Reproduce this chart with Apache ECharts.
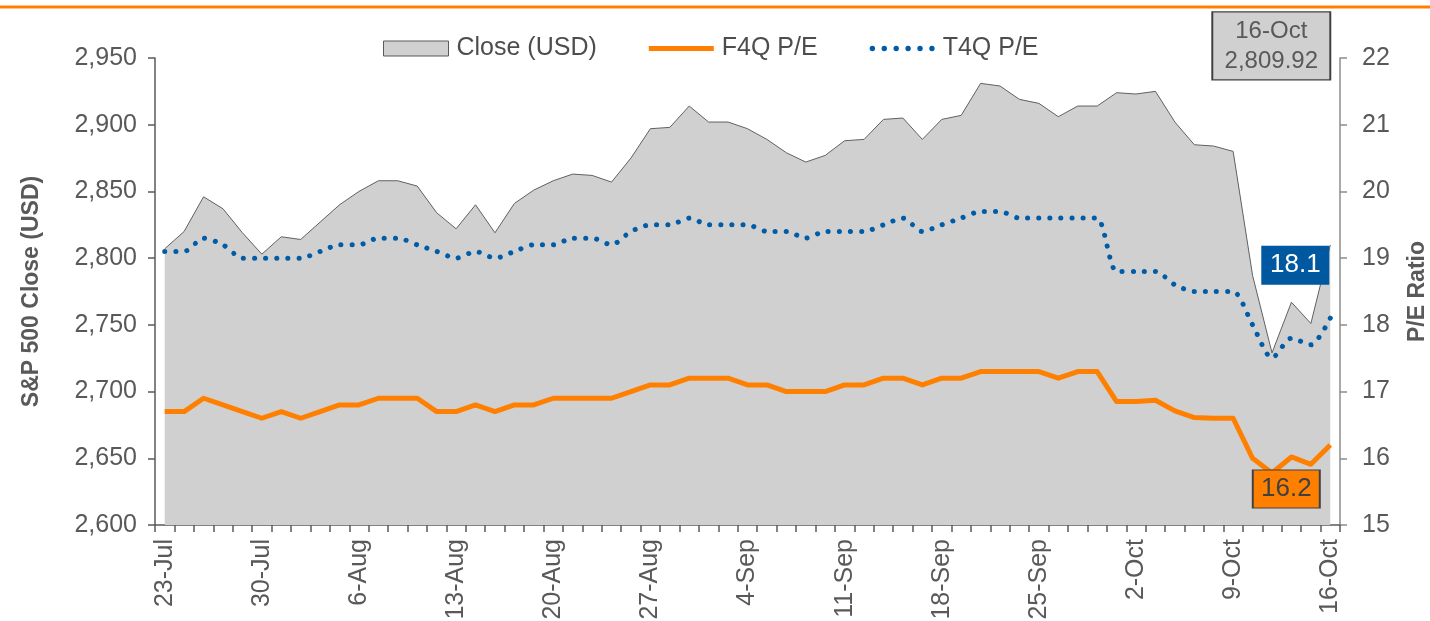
<!DOCTYPE html>
<html>
<head>
<meta charset="utf-8">
<script src="https://cdn.jsdelivr.net/npm/echarts@6/dist/echarts.min.js"></script>
<style>
  html, body { margin: 0; padding: 0; background: #fff; }
  #chart { width: 1430px; height: 621px; }
</style>
</head>
<body>
<div id="chart"></div>
<script>
// trading days, 23-Jul to 16-Oct
const dates = [
  '23-Jul','24-Jul','25-Jul','26-Jul','27-Jul',
  '30-Jul','31-Jul','1-Aug','2-Aug','3-Aug',
  '6-Aug','7-Aug','8-Aug','9-Aug','10-Aug',
  '13-Aug','14-Aug','15-Aug','16-Aug','17-Aug',
  '20-Aug','21-Aug','22-Aug','23-Aug','24-Aug',
  '27-Aug','28-Aug','29-Aug','30-Aug','31-Aug',
  '4-Sep','5-Sep','6-Sep','7-Sep','10-Sep',
  '11-Sep','12-Sep','13-Sep','14-Sep','17-Sep',
  '18-Sep','19-Sep','20-Sep','21-Sep','24-Sep',
  '25-Sep','26-Sep','27-Sep','28-Sep','1-Oct',
  '2-Oct','3-Oct','4-Oct','5-Oct','8-Oct',
  '9-Oct','10-Oct','11-Oct','12-Oct','15-Oct',
  '16-Oct'
];

const closeUsd = [
  2807, 2820, 2846, 2837, 2819,
  2803, 2816, 2814, 2827, 2840,
  2850, 2858, 2858, 2854, 2834,
  2822, 2840, 2819, 2841, 2851,
  2858, 2863, 2862, 2857, 2875,
  2897, 2898, 2914, 2902, 2902,
  2897, 2889, 2879, 2872, 2877,
  2888, 2889, 2904, 2905, 2889,
  2904, 2907, 2931, 2929, 2919,
  2916, 2906, 2914, 2914, 2924,
  2923, 2925, 2902, 2885, 2884,
  2880, 2787, 2729, 2767, 2751,
  2809.92
];

const f4qPE = [
  16.7, 16.7, 16.9, 16.8, 16.7,
  16.6, 16.7, 16.6, 16.7, 16.8,
  16.8, 16.9, 16.9, 16.9, 16.7,
  16.7, 16.8, 16.7, 16.8, 16.8,
  16.9, 16.9, 16.9, 16.9, 17.0,
  17.1, 17.1, 17.2, 17.2, 17.2,
  17.1, 17.1, 17.0, 17.0, 17.0,
  17.1, 17.1, 17.2, 17.2, 17.1,
  17.2, 17.2, 17.3, 17.3, 17.3,
  17.3, 17.2, 17.3, 17.3, 16.85,
  16.85, 16.87, 16.71, 16.61, 16.6,
  16.6, 16.0, 15.78, 16.02, 15.91,
  16.2
];

const t4qPE = [
  19.1, 19.1, 19.3, 19.2, 19.0,
  19.0, 19.0, 19.0, 19.1, 19.2,
  19.2, 19.3, 19.3, 19.2, 19.1,
  19.0, 19.1, 19.0, 19.1, 19.2,
  19.2, 19.3, 19.3, 19.2, 19.4,
  19.5, 19.5, 19.6, 19.5, 19.5,
  19.5, 19.4, 19.4, 19.3, 19.4,
  19.4, 19.4, 19.5, 19.6, 19.4,
  19.5, 19.6, 19.7, 19.7, 19.6,
  19.6, 19.6, 19.6, 19.6, 18.8,
  18.8, 18.8, 18.6, 18.5, 18.5,
  18.5, 18.0, 17.5, 17.8, 17.7,
  18.1
];

const closeTicks = { min: 2600, max: 2950, interval: 50 };
const peTicks = { min: 15, max: 22, interval: 1 };

const last = dates.length - 1;
const font = 'Liberation Sans, Arial, sans-serif';
const textGrey = '#595959';
const orange = '#ff8000';
const blue = '#005ca6';
const dotted = [0.1, 11];

// legend glyphs: a solid bar and a row of six round dots
const barIcon = 'path://M0,0h65v5h-65z';
let dotPath = 'path://';
for (let k = 0; k < 6; k++) {
  dotPath += 'M' + (k * 11) + ',2.5a2.5,2.5 0 1,0 5,0a2.5,2.5 0 1,0 -5,0z';
}

const chart = echarts.init(document.getElementById('chart'));

chart.setOption({
  animation: false,
  textStyle: { fontFamily: font },
  graphic: [
    {
      type: 'line',
      shape: { x1: 0, y1: 7, x2: 1430, y2: 7 },
      style: { stroke: orange, lineWidth: 3 }
    }
  ],
  legend: {
    left: 378,
    top: 31,
    itemWidth: 65,
    itemHeight: 15,
    itemGap: 52,
    textStyle: { fontSize: 25, color: '#4d4d4d', fontFamily: font, padding: [0, 0, 0, 3] },
    data: [
      { name: 'Close (USD)', icon: 'rect', itemStyle: { color: '#d0d0d0', borderColor: '#595959', borderWidth: 1 } },
      { name: 'F4Q P/E', icon: barIcon, itemStyle: { color: orange, borderWidth: 0 } },
      { name: 'T4Q P/E', icon: dotPath, itemStyle: { color: blue, borderWidth: 0 } }
    ]
  },
  grid: { left: 155, right: 90, top: 58, bottom: 96, outerBoundsMode: 'none' },
  xAxis: {
    type: 'category',
    data: dates,
    boundaryGap: true,
    axisLine: { lineStyle: { color: '#595959', width: 1.5 } },
    axisTick: { show: true, interval: 0, length: 7, lineStyle: { color: '#595959', width: 1.5 } },
    axisLabel: {
      interval: 4,
      rotate: 90,
      margin: 14,
      fontSize: 25,
      color: textGrey,
      fontFamily: font
    },
    splitLine: { show: false }
  },
  yAxis: [
    {
      type: 'value',
      min: closeTicks.min,
      max: closeTicks.max,
      interval: closeTicks.interval,
      name: 'S&P 500 Close (USD)',
      nameLocation: 'middle',
      nameRotate: 90,
      nameGap: 112,
      nameTextStyle: { fontSize: 23, fontWeight: 'bold', color: textGrey, fontFamily: font },
      axisLine: { show: true, lineStyle: { color: '#595959', width: 1.5 } },
      axisTick: { show: true, length: 7, lineStyle: { color: '#595959', width: 1.5 } },
      axisLabel: {
        margin: 18,
        fontSize: 25,
        color: textGrey,
        fontFamily: font,
        formatter: v => v.toLocaleString('en-US')
      },
      splitLine: { show: false }
    },
    {
      type: 'value',
      min: peTicks.min,
      max: peTicks.max,
      interval: peTicks.interval,
      position: 'right',
      name: 'P/E Ratio',
      nameLocation: 'middle',
      nameRotate: 90,
      nameGap: 66,
      nameTextStyle: { fontSize: 23, fontWeight: 'bold', color: textGrey, fontFamily: font },
      axisLine: { show: true, lineStyle: { color: '#8c8c8c', width: 1.5 } },
      axisTick: { show: true, length: 7, lineStyle: { color: '#8c8c8c', width: 1.5 } },
      axisLabel: { margin: 22, fontSize: 25, color: textGrey, fontFamily: font },
      splitLine: { show: false }
    }
  ],
  series: [
    {
      name: 'Close (USD)',
      type: 'line',
      yAxisIndex: 0,
      data: closeUsd,
      symbol: 'none',
      itemStyle: { color: '#d0d0d0' },
      lineStyle: { color: '#606060', width: 1 },
      areaStyle: { color: '#d0d0d0', opacity: 1, origin: 'start' },
      z: 1,
      markPoint: {
        symbol: 'rect',
        symbolSize: [118, 68],
        symbolOffset: [-59, -199],
        itemStyle: { color: '#d0d0d0', borderColor: '#404040', borderWidth: 1.5 },
        label: {
          show: true,
          position: 'inside',
          fontSize: 24,
          lineHeight: 30,
          color: textGrey,
          fontFamily: font,
          formatter: () => dates[last] + '\n' +
            closeUsd[last].toLocaleString('en-US', { minimumFractionDigits: 2 })
        },
        data: [{ coord: [last, closeUsd[last]], value: closeUsd[last] }]
      }
    },
    {
      name: 'F4Q P/E',
      type: 'line',
      yAxisIndex: 1,
      data: f4qPE,
      symbol: 'none',
      itemStyle: { color: orange },
      lineStyle: { color: orange, width: 5, join: 'round' },
      z: 3,
      markPoint: {
        symbol: 'rect',
        symbolSize: [67, 38],
        symbolOffset: [-44, 44],
        itemStyle: { color: orange, borderColor: '#404040', borderWidth: 1.5 },
        label: {
          show: true,
          position: 'inside',
          fontSize: 26,
          color: '#404040',
          fontFamily: font,
          formatter: p => p.value.toFixed(1)
        },
        data: [{ coord: [last, f4qPE[last]], value: f4qPE[last] }]
      }
    },
    {
      name: 'T4Q P/E',
      type: 'line',
      yAxisIndex: 1,
      data: t4qPE,
      symbol: 'none',
      smooth: 0.25,
      itemStyle: { color: blue },
      lineStyle: { color: blue, width: 5, type: dotted, cap: 'round' },
      z: 4,
      markPoint: {
        symbol: 'rect',
        symbolSize: [68, 39],
        symbolOffset: [-35, -53],
        itemStyle: { color: '#0059a0' },
        label: {
          show: true,
          position: 'inside',
          fontSize: 26,
          color: '#ffffff',
          fontFamily: font,
          formatter: p => p.value.toFixed(1)
        },
        data: [{ coord: [last, t4qPE[last]], value: t4qPE[last] }]
      }
    }
  ]
});
</script>
</body>
</html>
